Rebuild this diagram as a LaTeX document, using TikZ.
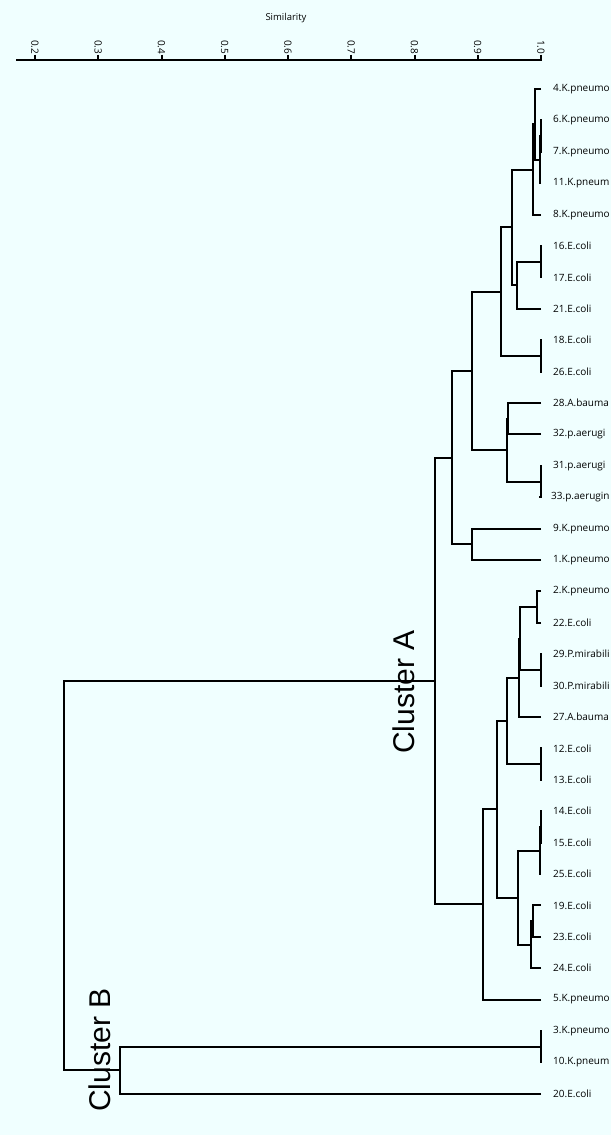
\documentclass[tikz,border=0pt]{standalone}
\usepackage{fontspec}
\setmainfont{Open Sans}
\newfontfamily\clusterfont{Liberation Sans}
\usepackage{tikz}
\pgfdeclarelayer{bg}
\pgfsetlayers{bg,main}
\definecolor{azure}{RGB}{240,255,255}
\tikzset{
    leaf/.style={anchor=west, inner xsep=12pt, inner ysep=1pt, font=\fontsize{10}{12}\selectfont},
    ticklabel/.style={anchor=east, rotate=-90, inner sep=0pt, font=\fontsize{10}{12}\selectfont},
    link/.style={line width=2pt},
    axisline/.style={line width=2.2pt},
    cluster/.style={rotate=90, inner sep=0pt, font=\clusterfont\fontsize{30}{36}\selectfont}
}

\begin{document}
\begin{tikzpicture}[x=1pt, y=-1pt]
    \useasboundingbox (0, 0) rectangle (611, 1135);
    \begin{pgfonlayer}{bg}
        \fill[azure] (0, 0) rectangle (611, 1135);
    \end{pgfonlayer}

    \node (sim) [font=\fontsize{9.5}{11}\selectfont] at (286, 18) {Similarity};
    \coordinate (ax0) at (16, 60);
    \coordinate (ax1) at (542, 60);
    \node (t2) [ticklabel] at (35, 54.5) {0.2};
    \node (t3) [ticklabel] at (98.25, 54.5) {0.3};
    \node (t4) [ticklabel] at (161.5, 54.5) {0.4};
    \node (t5) [ticklabel] at (224.75, 54.5) {0.5};
    \node (t6) [ticklabel] at (288, 54.5) {0.6};
    \node (t7) [ticklabel] at (351.25, 54.5) {0.7};
    \node (t8) [ticklabel] at (414.5, 54.5) {0.8};
    \node (t9) [ticklabel] at (477.75, 54.5) {0.9};
    \node (t10) [ticklabel] at (541, 54.5) {1.0};

    \node (l4) [leaf] at (541, 89) {4.K.pneumo};
    \node (l6) [leaf] at (541, 120.4) {6.K.pneumo};
    \node (l7) [leaf] at (541, 151.8) {7.K.pneumo};
    \node (l11) [leaf] at (541, 183.2) {11.K.pneum};
    \node (l8) [leaf] at (541, 214.6) {8.K.pneumo};
    \node (l16) [leaf] at (541, 246) {16.E.coli};
    \node (l17) [leaf] at (541, 277.4) {17.E.coli};
    \node (l21) [leaf] at (541, 308.8) {21.E.coli};
    \node (l18) [leaf] at (541, 340.2) {18.E.coli};
    \node (l26) [leaf] at (541, 371.6) {26.E.coli};
    \node (l28) [leaf] at (541, 403) {28.A.bauma};
    \node (l32) [leaf] at (541, 434.4) {32.p.aerugi};
    \node (l31) [leaf] at (541, 465.8) {31.p.aerugi};
    \node (l33) [leaf] at (539, 497.2) {33.p.aerugin};
    \node (l9) [leaf] at (541, 528.6) {9.K.pneumo};
    \node (l1) [leaf] at (541, 560) {1.K.pneumo};
    \node (l2) [leaf] at (541, 591.4) {2.K.pneumo};
    \node (l22) [leaf] at (541, 622.8) {22.E.coli};
    \node (l29) [leaf] at (541, 654.2) {29.P.mirabili};
    \node (l30) [leaf] at (541, 685.6) {30.P.mirabili};
    \node (l27) [leaf] at (541, 717) {27.A.bauma};
    \node (l12) [leaf] at (541, 748.4) {12.E.coli};
    \node (l13) [leaf] at (541, 779.8) {13.E.coli};
    \node (l14) [leaf] at (541, 811.2) {14.E.coli};
    \node (l15) [leaf] at (541, 842.6) {15.E.coli};
    \node (l25) [leaf] at (541, 874) {25.E.coli};
    \node (l19) [leaf] at (541, 905.4) {19.E.coli};
    \node (l23) [leaf] at (541, 936.8) {23.E.coli};
    \node (l24) [leaf] at (541, 968.2) {24.E.coli};
    \node (l5) [leaf] at (541, 999.6) {5.K.pneumo};
    \node (l3) [leaf] at (541, 1031) {3.K.pneumo};
    \node (l10) [leaf] at (541, 1062.4) {10.K.pneum};
    \node (l20) [leaf] at (541, 1093.8) {20.E.coli};

    \coordinate (a1) at (540.5, 136.1);
    \coordinate (a2) at (539.5, 159.7);
    \coordinate (a3) at (534.5, 124.3);
    \coordinate (a4) at (532.5, 169.5);
    \coordinate (b1) at (540.5, 261.7);
    \coordinate (b2) at (517, 285.3);
    \coordinate (a5) at (512, 227.4);
    \coordinate (b3) at (540.5, 355.9);
    \coordinate (a6) at (501, 291.6);
    \coordinate (c1) at (507.5, 418.7);
    \coordinate (c2) at (540.5, 481.5);
    \coordinate (c3) at (506.5, 450.1);
    \coordinate (a7) at (472, 370.9);
    \coordinate (c4) at (472, 544.3);
    \coordinate (a8) at (452, 457.6);
    \coordinate (d1) at (537, 607.1);
    \coordinate (d2) at (540.5, 669.9);
    \coordinate (d3) at (520, 638.5);
    \coordinate (d4) at (518.5, 677.8);
    \coordinate (d5) at (540.5, 764.1);
    \coordinate (d6) at (507, 720.9);
    \coordinate (e1) at (540.5, 826.9);
    \coordinate (e2) at (540, 850.5);
    \coordinate (e3) at (533, 921.1);
    \coordinate (e4) at (531, 944.7);
    \coordinate (e5) at (518, 897.6);
    \coordinate (d7) at (497, 809.2);
    \coordinate (d8) at (483, 904.4);
    \coordinate (cA) at (435, 681);
    \coordinate (f1) at (540.5, 1046.7);
    \coordinate (cB) at (119.5, 1070.3);
    \coordinate (root) at (63.5, 875.6);

    \node (labA) [cluster] at (404, 692) {Cluster A};
    \node (labB) [cluster] at (100, 1050) {Cluster B};

    \draw[axisline] (ax0) -- (ax1);
    \draw[link] (t2.east) -- (t2.east |- ax0);
    \draw[link] (t3.east) -- (t3.east |- ax0);
    \draw[link] (t4.east) -- (t4.east |- ax0);
    \draw[link] (t5.east) -- (t5.east |- ax0);
    \draw[link] (t6.east) -- (t6.east |- ax0);
    \draw[link] (t7.east) -- (t7.east |- ax0);
    \draw[link] (t8.east) -- (t8.east |- ax0);
    \draw[link] (t9.east) -- (t9.east |- ax0);
    \draw[link] (t10.east) -- (t10.east |- ax0);

    \draw[link] (l6.west) -| (a1);
    \draw[link] (l7.west) -| (a1);
    \draw[link] (a1) -| (a2);
    \draw[link] (l11.west) -| (a2);
    \draw[link] (l4.west) -| (a3);
    \draw[link] (a2) -| (a3);
    \draw[link] (a3) -| (a4);
    \draw[link] (l8.west) -| (a4);
    \draw[link] (l16.west) -| (b1);
    \draw[link] (l17.west) -| (b1);
    \draw[link] (b1) -| (b2);
    \draw[link] (l21.west) -| (b2);
    \draw[link] (a4) -| (a5);
    \draw[link] (b2) -| (a5);
    \draw[link] (l18.west) -| (b3);
    \draw[link] (l26.west) -| (b3);
    \draw[link] (a5) -| (a6);
    \draw[link] (b3) -| (a6);
    \draw[link] (l28.west) -| (c1);
    \draw[link] (l32.west) -| (c1);
    \draw[link] (l31.west) -| (c2);
    \draw[link] (l33.west) -| (c2);
    \draw[link] (c1) -| (c3);
    \draw[link] (c2) -| (c3);
    \draw[link] (a6) -| (a7);
    \draw[link] (c3) -| (a7);
    \draw[link] (l9.west) -| (c4);
    \draw[link] (l1.west) -| (c4);
    \draw[link] (a7) -| (a8);
    \draw[link] (c4) -| (a8);

    \draw[link] (l2.west) -| (d1);
    \draw[link] (l22.west) -| (d1);
    \draw[link] (l29.west) -| (d2);
    \draw[link] (l30.west) -| (d2);
    \draw[link] (d1) -| (d3);
    \draw[link] (d2) -| (d3);
    \draw[link] (d3) -| (d4);
    \draw[link] (l27.west) -| (d4);
    \draw[link] (l12.west) -| (d5);
    \draw[link] (l13.west) -| (d5);
    \draw[link] (d4) -| (d6);
    \draw[link] (d5) -| (d6);
    \draw[link] (l14.west) -| (e1);
    \draw[link] (l15.west) -| (e1);
    \draw[link] (e1) -| (e2);
    \draw[link] (l25.west) -| (e2);
    \draw[link] (l19.west) -| (e3);
    \draw[link] (l23.west) -| (e3);
    \draw[link] (e3) -| (e4);
    \draw[link] (l24.west) -| (e4);
    \draw[link] (e2) -| (e5);
    \draw[link] (e4) -| (e5);
    \draw[link] (d6) -| (d7);
    \draw[link] (e5) -| (d7);
    \draw[link] (d7) -| (d8);
    \draw[link] (l5.west) -| (d8);

    \draw[link] (a8) -| (cA);
    \draw[link] (d8) -| (cA);
    \draw[link] (l3.west) -| (f1);
    \draw[link] (l10.west) -| (f1);
    \draw[link] (f1) -| (cB);
    \draw[link] (l20.west) -| (cB);
    \draw[link] (cA) -| (root);
    \draw[link] (cB) -| (root);
\end{tikzpicture}
\end{document}
